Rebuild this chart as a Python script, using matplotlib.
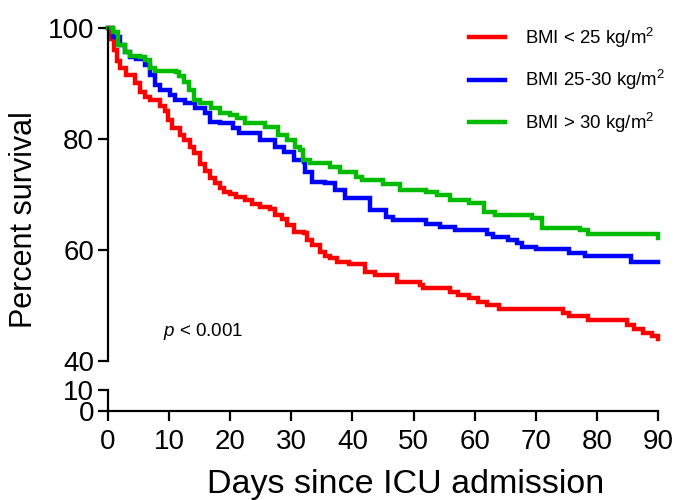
import matplotlib
matplotlib.use("Agg")
import matplotlib.pyplot as plt

plt.rcParams['font.family'] = ['Liberation Sans', 'DejaVu Sans']
plt.rcParams['mathtext.fontset'] = 'custom'
plt.rcParams['mathtext.rm'] = 'Liberation Sans'
plt.rcParams['mathtext.it'] = 'Liberation Sans:italic'

labels = ['BMI < 25 kg/m$^2$', 'BMI 25-30 kg/m$^2$', 'BMI > 30 kg/m$^2$']
colors = ['#ff0000', '#0000ff', '#00bb00']

red_days = [0, 0.5, 1, 1.5, 2, 3, 4.4, 5.2, 6, 6.9, 8.5, 9.3, 9.8, 10.5, 11.8, 12.5, 13.4, 14, 15, 15.8,
            16.7, 17.5, 18.3, 19, 20, 21, 22.4, 23.5, 24.9, 26.5, 27.3, 28.5, 29.3, 30.5, 32, 32.5, 33.3,
            34.7, 35.5, 36.3, 37.5, 39.5, 42, 43.7, 47, 47.3, 51, 51.5, 55.5, 56, 57.3, 59, 60.5, 62, 64,
            74.5, 75.5, 78.5, 85, 86, 87.5, 89, 90]
red_pct = [100, 98, 96, 94, 92.8, 91.5, 90, 88.5, 87.5, 87, 86, 85, 83.4, 82, 80.7, 79.8, 78.6, 77.5, 75.5,
           74.3, 73, 72, 71.2, 70.5, 70, 69.5, 69, 68.3, 67.7, 67.4, 66.3, 65.5, 64.5, 63.2, 63, 61.8,
           60.9, 59.6, 59, 58.5, 57.8, 57.5, 56, 55.5, 55.5, 54.2, 53.7, 53.2, 53.2, 52.4, 51.9, 51.4,
           50.7, 50, 49.4, 48.7, 48.1, 47.4, 46.5, 45.8, 45, 44.5, 44]

blue_days = [0, 0.8, 2, 2.8, 3.6, 4.5, 6, 6.9, 7.7, 8.5, 10.1, 10.9, 12.6, 14.2, 15.9, 16.7, 18.3, 20.5,
             21.5, 24.9, 27.3, 28.8, 30.5, 32, 32.3, 33.3, 35.5, 37.2, 38.8, 42.5, 42.9, 45, 45.5, 46.6,
             51.7, 52, 54.3, 56.8, 57.5, 62, 63, 65.5, 67, 67.8, 70, 75.5, 78, 84.5, 85.5, 90]
blue_pct = [100, 98.4, 97, 95.7, 94.8, 94.5, 93.3, 91.5, 89.7, 88.8, 88, 87, 86.5, 85.6, 84.7, 83, 82.9,
            82, 81, 79.8, 78.6, 77.7, 76.2, 75.9, 74, 72.3, 72, 70.8, 69.3, 69.3, 67.2, 67.2, 66, 65.4,
            65.4, 64.7, 64.1, 63.6, 63.6, 62.8, 62.3, 61.8, 61.3, 60.5, 60.2, 59.5, 58.9, 58.9, 57.8, 57.8]

green_days = [0, 0.8, 1.6, 2.8, 3.6, 5.2, 6, 6.9, 7.7, 11.1, 11.6, 12.4, 13.3, 14, 15, 16.9, 18.3, 20,
              21.1, 22.4, 25.7, 27.8, 29.3, 30.6, 31.4, 31.9, 33, 36.3, 37.9, 40.6, 41.5, 45, 47.7, 52,
              53.8, 56, 59, 61.5, 63.3, 69.3, 71, 77.3, 78.5, 89.5, 90]
green_pct = [100, 99.3, 97, 95.7, 95, 94.8, 94.2, 92.8, 92.3, 92, 91.4, 90.3, 88.8, 87, 86.5, 85.6, 84.7,
             84.3, 83.8, 82.9, 82.2, 80.7, 79.8, 78.6, 78, 76.2, 75.7, 75, 74, 73.2, 72.6, 71.9, 70.8,
             70.5, 69.9, 69, 68.5, 66.8, 66.3, 65.8, 64, 63.6, 62.9, 62.9, 62.2]

series_days = [red_days, blue_days, green_days]
series_pct = [red_pct, blue_pct, green_pct]

xticks = [0, 10, 20, 30, 40, 50, 60, 70, 80, 90]
upper_yticks = [40, 60, 80, 100]
lower_yticks = [0, 10]

fig = plt.figure(figsize=(6.78, 5.0), dpi=100)
W, H = 678, 500
left, right = 108 / W, 658 / W
ax = fig.add_axes([left, 1 - 361 / H, right - left, (361 - 28) / H])
axb = fig.add_axes([left, 1 - 411 / H, right - left, (411 - 390) / H])

for d, p, c, l in zip(series_days, series_pct, colors, labels):
    ax.step(d, p, where='post', color=c, lw=3.2, label=l, solid_joinstyle='miter', clip_on=False)

ax.set_xlim(0, 90)
ax.set_ylim(40, 100)
ax.set_yticks(upper_yticks)
ax.set_xticks([])
for s in ['top', 'right', 'bottom']:
    ax.spines[s].set_visible(False)
ax.spines['left'].set_linewidth(1.6)
ax.tick_params(axis='y', length=7, width=1.6, labelsize=20, pad=3)

axb.set_xlim(0, 90)
axb.set_ylim(0, 10)
axb.set_yticks(lower_yticks)
axb.set_xticks(xticks)
for s in ['top', 'right']:
    axb.spines[s].set_visible(False)
axb.spines['left'].set_linewidth(1.6)
axb.spines['bottom'].set_linewidth(1.6)
axb.tick_params(axis='y', length=7, width=1.6, labelsize=20, pad=3)
axb.tick_params(axis='x', length=7, width=1.6, labelsize=20, pad=6)
axb.patch.set_alpha(0)

fig.text(406 / W, 1 - 485 / H, 'Days since ICU admission', fontsize=24.5, ha='center', va='center')
fig.text(24 / W, 1 - 220 / H, 'Percent survival', rotation=90, fontsize=22, ha='center', va='center')

ax.text(9, 45.4, r'$p$ < 0.001', fontsize=13.5, va='center', ha='left')

ax.legend(loc='upper left', bbox_to_anchor=(0.643, 1.03), frameon=False, fontsize=13.4,
          handlelength=1.95, handletextpad=1.05, labelspacing=1.0, borderaxespad=0)

fig.savefig('out.png', dpi=100)
